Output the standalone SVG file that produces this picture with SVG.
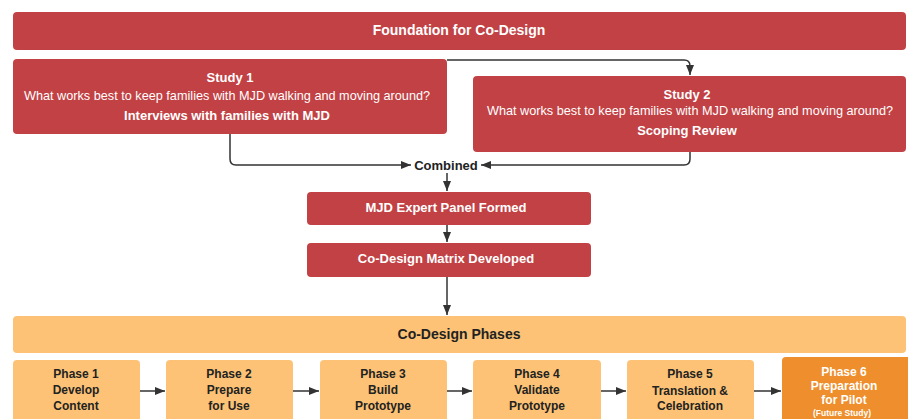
<svg xmlns="http://www.w3.org/2000/svg" width="908" height="419" viewBox="0 0 908 419">
<defs>
<style>
text{font-family:"Liberation Sans",Arial,sans-serif;text-anchor:middle;dominant-baseline:central}
.red{fill:#C24144}
.lo{fill:#FDC275}
.do{fill:#EE8E2C}
.w{fill:#fff}
.b{font-weight:bold}
.k{fill:#222}
.t14{font-size:14px}
.t13{font-size:13px}
.q{font-size:12.7px}
.t12{font-size:12px}
.t8{font-size:8.5px}
.c{fill:none;stroke:#333;stroke-width:1.5}
</style>
<marker id="ah" viewBox="0 0 10 10" refX="10" refY="5" markerWidth="10" markerHeight="10" markerUnits="userSpaceOnUse" orient="auto">
<path d="M0,1 L10,5 L0,9 Z" fill="#333"/>
</marker>
</defs>
<g id="foundation"><rect class="red" x="13" y="12" width="893" height="38" rx="4"/><text class="w b t14" x="459" y="30">Foundation for Co-Design</text></g>
<g id="study1"><rect class="red" x="13" y="59" width="434" height="75" rx="4"/>
<text class="w b t13" x="230" y="77">Study 1</text>
<text class="w q" x="227" y="96">What works best to keep families with MJD walking and moving around?</text>
<text class="w b t13" x="227" y="115">Interviews with families with MJD</text></g>
<g id="study2"><rect class="red" x="473" y="76" width="433" height="76" rx="4"/>
<text class="w b t13" x="687" y="94">Study 2</text>
<text class="w q" x="690" y="111">What works best to keep families with MJD walking and moving around?</text>
<text class="w b t13" x="687" y="130">Scoping Review</text></g>
<g id="combined"><text class="k b t13" x="446" y="165">Combined</text></g>
<g id="panel"><rect class="red" x="307" y="192" width="284" height="33" rx="4"/><text class="w b t13" x="446" y="207">MJD Expert Panel Formed</text></g>
<g id="matrix"><rect class="red" x="307" y="243" width="284" height="34" rx="4"/><text class="w b t13" x="446" y="258">Co-Design Matrix Developed</text></g>
<g id="phases"><rect class="lo" x="13" y="316" width="893" height="37" rx="4"/><text class="k b t14" x="459" y="334">Co-Design Phases</text></g>
<g id="phase1"><rect class="lo" x="13" y="360" width="127" height="70" rx="4"/><text class="k b t12" x="76" y="374">Phase 1</text><text class="k b t12" x="76" y="390">Develop</text><text class="k b t12" x="76" y="406">Content</text></g>
<g id="phase2"><rect class="lo" x="166" y="360" width="127" height="70" rx="4"/><text class="k b t12" x="229" y="374">Phase 2</text><text class="k b t12" x="229" y="390">Prepare</text><text class="k b t12" x="229" y="406">for Use</text></g>
<g id="phase3"><rect class="lo" x="320" y="360" width="127" height="70" rx="4"/><text class="k b t12" x="383" y="374">Phase 3</text><text class="k b t12" x="383" y="390">Build</text><text class="k b t12" x="383" y="406">Prototype</text></g>
<g id="phase4"><rect class="lo" x="473" y="360" width="128" height="70" rx="4"/><text class="k b t12" x="537" y="374">Phase 4</text><text class="k b t12" x="537" y="390">Validate</text><text class="k b t12" x="537" y="406">Prototype</text></g>
<g id="phase5"><rect class="lo" x="627" y="360" width="127" height="70" rx="4"/><text class="k b t12" x="690" y="374">Phase 5</text><text class="k b t12" x="690" y="391">Translation &amp;</text><text class="k b t12" x="690" y="406">Celebration</text></g>
<g id="phase6"><rect class="do" x="782" y="357" width="130" height="70" rx="4"/><text class="w b t12" x="844" y="372">Phase 6</text><text class="w b t12" x="844" y="386">Preparation</text><text class="w b t12" x="844" y="400">for Pilot</text><text class="w b t8" x="842" y="413">(Future Study)</text></g>
<g id="connectors">
<path class="c" d="M447,60 H684 Q690,60 690,66 V75" marker-end="url(#ah)"/>
<path class="c" d="M230,134 V159 Q230,165 236,165 H411" marker-end="url(#ah)"/>
<path class="c" d="M690,152 V159 Q690,165 684,165 H481" marker-end="url(#ah)"/>
<path class="c" d="M447,173 V191" marker-end="url(#ah)"/>
<path class="c" d="M447,225 V242" marker-end="url(#ah)"/>
<path class="c" d="M447,277 V315" marker-end="url(#ah)"/>
<path class="c" d="M140,391 H165" marker-end="url(#ah)"/>
<path class="c" d="M293,391 H319" marker-end="url(#ah)"/>
<path class="c" d="M447,391 H472" marker-end="url(#ah)"/>
<path class="c" d="M601,391 H626" marker-end="url(#ah)"/>
<path class="c" d="M754,391 H781" marker-end="url(#ah)"/>
</g>
</svg>
